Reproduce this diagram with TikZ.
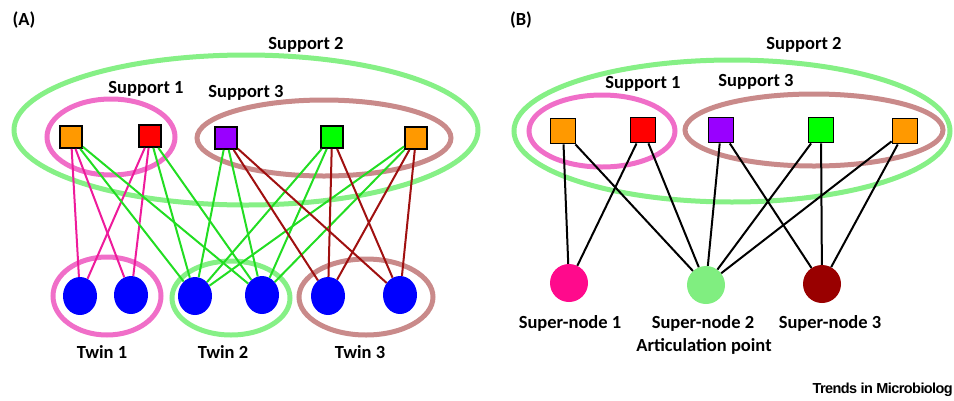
\documentclass[tikz,border=0pt]{standalone}
\usepackage{fontspec}
\setmainfont{Carlito}
\newfontfamily\trendsfont[LetterSpace=-4]{Liberation Sans}
\usepackage{tikz}
\usetikzlibrary{shapes.geometric}

\definecolor{sqorange}{HTML}{FF9900}
\definecolor{sqred}{HTML}{FF0000}
\definecolor{sqpurple}{HTML}{9900FF}
\definecolor{sqgreen}{HTML}{00FF00}
\definecolor{twinblue}{HTML}{0000FF}
\definecolor{pinkring}{HTML}{F06EC8}
\definecolor{greenring}{HTML}{86F086}
\definecolor{brownring}{HTML}{C98A8A}
\definecolor{pinkedge}{HTML}{EE1B9B}
\definecolor{greenedge}{HTML}{22DD22}
\definecolor{darkedge}{HTML}{A01010}
\definecolor{superpink}{HTML}{FF0A8C}
\definecolor{supergreen}{HTML}{80EE80}
\definecolor{superdark}{HTML}{990000}

\begin{document}
\begin{tikzpicture}[x=1pt,y=-1pt,font=\fontsize{18.5}{22}\selectfont\bfseries,
    sq/.style={draw,line width=1.8pt,minimum size=22pt,inner sep=0pt},
    bigsq/.style={sq,minimum size=25pt},
    twin/.style={ellipse,fill=twinblue,minimum width=34pt,minimum height=38pt,inner sep=0pt},
    supernode/.style={circle,minimum size=38pt,inner sep=0pt},
    ring/.style={line width=5pt},
    link/.style={line width=2pt}]
  \useasboundingbox (0,0) rectangle (954,400);

  % (A) rings
  \draw[ring,greenring] (246,130) ellipse [x radius=232pt, y radius=75pt];
  \draw[ring,pinkring] (111,137) ellipse [x radius=64pt, y radius=38pt];
  \draw[ring,brownring] (324,138) ellipse [x radius=127pt, y radius=38pt];
  \draw[ring,pinkring] (107,296) ellipse [x radius=54pt, y radius=39pt];
  \draw[ring,greenring] (231,298) ellipse [x radius=59pt, y radius=37pt];
  \draw[ring,brownring] (366,297) ellipse [x radius=67pt, y radius=38pt];

  % (A) nodes
  \node[sq,fill=sqorange] (a1) at (71,137) {};
  \node[sq,fill=sqred] (a2) at (150,136) {};
  \node[sq,fill=sqpurple] (a3) at (226,138) {};
  \node[sq,fill=sqgreen] (a4) at (332,137) {};
  \node[sq,fill=sqorange] (a5) at (416,138) {};
  \node[twin] (t1) at (80,296) {};
  \node[twin] (t2) at (131,295) {};
  \node[twin] (t3) at (195,296) {};
  \node[twin] (t4) at (262,295) {};
  \node[twin] (t5) at (328,296) {};
  \node[twin] (t6) at (400,295) {};

  \path[link,pinkedge]
    (a1) edge (t1) edge (t2)
    (a2) edge (t1) edge (t2);
  \path[link,greenedge]
    (a1) edge (t3) edge (t4)
    (a2) edge (t3) edge (t4)
    (a3) edge (t3) edge (t4)
    (a4) edge (t3) edge (t4)
    (a5) edge (t3) edge (t4);
  \path[link,darkedge]
    (a3) edge (t5) edge (t6)
    (a4) edge (t5) edge (t6)
    (a5) edge (t5) edge (t6);

  \node (labA) at (24,20) {(A)};
  \node (supA2) at (306,45) {Support 2};
  \node (supA1) at (146,89) {Support 1};
  \node (supA3) at (246,93) {Support 3};
  \node (twin1) at (102,352) {Twin 1};
  \node (twin2) at (223,352) {Twin 2};
  \node (twin3) at (360,352) {Twin 3};

  % (B) rings
  \draw[ring,greenring] (732,131) ellipse [x radius=218pt, y radius=71pt];
  \draw[ring,pinkring] (602,131) ellipse [x radius=73pt, y radius=36pt];
  \draw[ring,brownring] (814,130) ellipse [x radius=129pt, y radius=36pt];

  % (B) nodes
  \node[bigsq,fill=sqorange] (b1) at (563,131) {};
  \node[bigsq,fill=sqred] (b2) at (643,130) {};
  \node[bigsq,fill=sqpurple] (b3) at (721,130) {};
  \node[bigsq,fill=sqgreen] (b4) at (821,130) {};
  \node[bigsq,fill=sqorange] (b5) at (905,131) {};
  \node[supernode,fill=superpink] (n1) at (569,283) {};
  \node[supernode,fill=supergreen] (n2) at (706,285) {};
  \node[supernode,fill=superdark] (n3) at (822,284) {};

  \path[link,black]
    (b1) edge (n1) edge (n2)
    (b2) edge (n1) edge (n2)
    (b3) edge (n2) edge (n3)
    (b4) edge (n2) edge (n3)
    (b5) edge (n2) edge (n3);

  \node (labB) at (521,20) {(B)};
  \node (supB2) at (804,45) {Support 2};
  \node (supB1) at (643,84) {Support 1};
  \node (supB3) at (756,82) {Support 3};
  \node (super1) at (570,323) {Super-node 1};
  \node (super2) at (703,323) {Super-node 2};
  \node (super3) at (830,323) {Super-node 3};
  \node (artic) at (704,346) {Articulation point};
  \node[anchor=east,inner sep=0pt,font=\trendsfont\fontsize{14.5}{17}\selectfont\bfseries] (trends) at (953,390) {Trends in Microbiolog};
\end{tikzpicture}
\end{document}
